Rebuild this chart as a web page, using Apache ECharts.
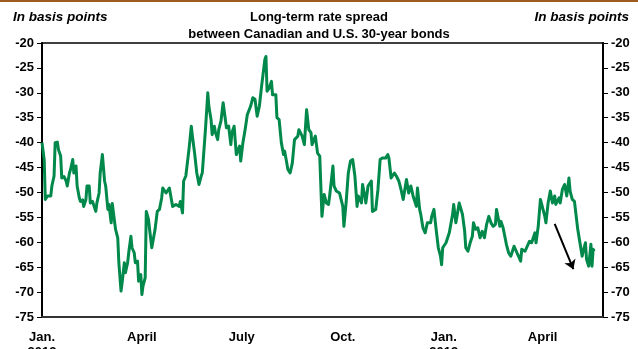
<!DOCTYPE html>
<html>
<head>
<meta charset="utf-8">
<script src="https://cdn.jsdelivr.net/npm/echarts@6/dist/echarts.min.js"></script>
<style>
  html, body { margin: 0; padding: 0; background: #fff; }
  #chart { width: 638px; height: 349px; }
</style>
</head>
<body>
<div id="chart"></div>
<script>
// Canada minus U.S. 30-year yield, in basis points
const dates = [
  '2012-01-01','2012-01-03','2012-01-04','2012-01-06','2012-01-07','2012-01-09','2012-01-10','2012-01-12','2012-01-13','2012-01-15',
  '2012-01-16','2012-01-18','2012-01-19','2012-01-21','2012-01-23','2012-01-24','2012-01-26','2012-01-27','2012-01-29','2012-01-30',
  '2012-02-01','2012-02-02','2012-02-04','2012-02-05','2012-02-07','2012-02-08','2012-02-10','2012-02-11','2012-02-13','2012-02-14',
  '2012-02-16','2012-02-17','2012-02-19','2012-02-20','2012-02-22','2012-02-23','2012-02-25','2012-02-27','2012-02-28','2012-03-01',
  '2012-03-02','2012-03-04','2012-03-05','2012-03-08','2012-03-10','2012-03-11','2012-03-13','2012-03-14','2012-03-16','2012-03-17',
  '2012-03-19','2012-03-20','2012-03-22','2012-03-23','2012-03-25','2012-03-26','2012-03-28','2012-03-29','2012-03-31','2012-04-01',
  '2012-04-02','2012-04-04','2012-04-05','2012-04-07','2012-04-08','2012-04-10','2012-04-11','2012-04-13','2012-04-15','2012-04-17',
  '2012-04-19','2012-04-20','2012-04-23','2012-04-26','2012-04-27','2012-04-29','2012-05-02','2012-05-05','2012-05-06','2012-05-08',
  '2012-05-09','2012-05-11','2012-05-14','2012-05-16','2012-05-17','2012-05-19','2012-05-21','2012-05-23','2012-05-25','2012-05-26',
  '2012-05-29','2012-05-31','2012-06-01','2012-06-03','2012-06-04','2012-06-06','2012-06-07','2012-06-09','2012-06-10','2012-06-12',
  '2012-06-14','2012-06-17','2012-06-19','2012-06-21','2012-06-22','2012-06-24','2012-06-26','2012-06-29','2012-06-30','2012-07-02',
  '2012-07-04','2012-07-06','2012-07-09','2012-07-11','2012-07-13','2012-07-15','2012-07-17','2012-07-19','2012-07-22','2012-07-23',
  '2012-07-24','2012-07-26','2012-07-28','2012-07-29','2012-08-01','2012-08-02','2012-08-04','2012-08-06','2012-08-08','2012-08-09',
  '2012-08-12','2012-08-14','2012-08-16','2012-08-18','2012-08-21','2012-08-22','2012-08-25','2012-08-27','2012-08-29','2012-08-31',
  '2012-09-02','2012-09-03','2012-09-06','2012-09-08','2012-09-10','2012-09-12','2012-09-14','2012-09-16','2012-09-18','2012-09-19',
  '2012-09-22','2012-09-23','2012-09-25','2012-09-28','2012-10-01','2012-10-02','2012-10-04','2012-10-06','2012-10-08','2012-10-10',
  '2012-10-12','2012-10-14','2012-10-15','2012-10-18','2012-10-19','2012-10-21','2012-10-22','2012-10-24','2012-10-27','2012-10-28',
  '2012-10-31','2012-11-02','2012-11-04','2012-11-06','2012-11-09','2012-11-11','2012-11-12','2012-11-14','2012-11-17','2012-11-19',
  '2012-11-21','2012-11-23','2012-11-25','2012-11-28','2012-11-30','2012-12-02','2012-12-04','2012-12-05','2012-12-07','2012-12-08',
  '2012-12-10','2012-12-11','2012-12-13','2012-12-15','2012-12-17','2012-12-20','2012-12-21','2012-12-23','2012-12-25','2012-12-27',
  '2012-12-28','2012-12-29','2012-12-30','2012-12-31','2013-01-03','2013-01-06','2013-01-09','2013-01-10','2013-01-12','2013-01-13',
  '2013-01-15','2013-01-18','2013-01-20','2013-01-21','2013-01-23','2013-01-25','2013-01-27','2013-01-28','2013-01-30','2013-02-01',
  '2013-02-03','2013-02-05','2013-02-07','2013-02-09','2013-02-11','2013-02-13','2013-02-15','2013-02-17','2013-02-18','2013-02-21',
  '2013-02-22','2013-02-24','2013-02-27','2013-03-01','2013-03-03','2013-03-06','2013-03-08','2013-03-10','2013-03-12','2013-03-13',
  '2013-03-16','2013-03-18','2013-03-20','2013-03-22','2013-03-25','2013-03-26','2013-03-28','2013-03-30','2013-04-01','2013-04-03',
  '2013-04-04','2013-04-06','2013-04-08','2013-04-10','2013-04-12','2013-04-13','2013-04-16','2013-04-17','2013-04-19','2013-04-21',
  '2013-04-23','2013-04-25','2013-04-26','2013-04-28','2013-04-30','2013-05-03','2013-05-05','2013-05-07','2013-05-08','2013-05-10',
  '2013-05-11','2013-05-13','2013-05-15','2013-05-16','2013-05-17','2013-05-18'
];
const spread = [
  -40.0,-43.4,-51.4,-50.7,-50.4,-50.7,-48.7,-46.7,-40.0,-39.9,
  -41.4,-42.7,-47.1,-46.8,-47.7,-48.7,-46.1,-45.4,-43.4,-46.1,
  -44.7,-48.7,-51.1,-51.8,-51.5,-52.8,-51.4,-48.7,-48.7,-52.1,
  -51.8,-51.8,-53.8,-52.1,-50.1,-46.1,-42.4,-47.7,-48.7,-53.4,
  -52.4,-56.1,-52.2,-57.4,-59.1,-64.1,-69.8,-68.1,-64.1,-66.1,
  -64.1,-62.1,-58.8,-61.1,-62.1,-64.1,-63.8,-67.8,-66.5,-70.5,
  -68.8,-67.1,-53.8,-55.4,-57.4,-61.1,-60.8,-57.4,-53.8,-53.4,
  -51.1,-49.1,-50.1,-49.1,-49.4,-52.8,-52.4,-52.8,-51.8,-54.1,
  -47.7,-46.7,-41.1,-36.7,-38.7,-42.1,-46.1,-48.4,-46.7,-46.1,
  -37.0,-30.0,-32.7,-35.4,-38.4,-36.7,-38.0,-39.4,-37.4,-35.7,
  -32.0,-37.0,-36.7,-40.4,-38.0,-36.7,-42.4,-40.7,-43.7,-40.0,
  -37.4,-34.4,-32.7,-31.0,-31.3,-34.7,-32.7,-28.7,-23.3,-22.7,
  -29.7,-29.0,-27.7,-30.4,-30.4,-35.0,-35.4,-40.0,-42.4,-41.7,
  -45.4,-46.1,-44.1,-39.4,-38.7,-37.4,-38.7,-40.4,-33.4,-37.4,
  -38.0,-40.4,-38.7,-42.1,-42.7,-54.8,-50.4,-52.1,-52.4,-50.7,
  -44.7,-48.7,-49.7,-50.1,-52.8,-56.8,-52.1,-46.1,-43.7,-43.4,
  -46.7,-52.8,-50.7,-52.1,-48.4,-50.7,-52.1,-48.7,-47.7,-53.8,
  -53.4,-49.4,-43.4,-43.1,-43.1,-42.4,-43.1,-47.1,-46.1,-46.8,
  -47.7,-49.4,-51.4,-47.4,-50.1,-48.7,-50.7,-51.1,-52.8,-49.1,
  -53.4,-54.4,-57.1,-58.1,-56.1,-56.1,-54.8,-53.4,-57.4,-61.1,
  -61.4,-62.8,-64.5,-61.1,-60.1,-58.1,-54.4,-52.4,-56.1,-54.8,
  -52.1,-54.4,-57.8,-61.1,-61.8,-60.1,-58.8,-56.1,-57.4,-57.1,
  -59.1,-57.8,-59.1,-56.4,-54.8,-56.1,-56.8,-56.4,-53.4,-56.8,
  -55.8,-57.1,-60.4,-62.1,-62.8,-60.8,-61.8,-62.8,-63.8,-61.4,
  -61.8,-60.8,-59.8,-60.1,-58.1,-60.1,-56.8,-51.4,-53.1,-54.8,
  -56.1,-52.1,-49.7,-52.1,-50.7,-52.4,-51.1,-52.1,-49.4,-48.4,
  -50.7,-47.1,-49.7,-51.4,-51.8,-57.4,-60.1,-62.8,-61.8,-60.1,
  -63.4,-64.8,-60.4,-64.8,-61.4,-61.8
];

// Quarterly tick dates and their labels
const tickDates = ['2012-01-01','2012-04-01','2012-07-01','2012-10-01','2013-01-01','2013-04-01'];
const tickLabels = ['Jan.\n2012','April','July','Oct.','Jan.\n2013','April'];

// Axis ranges
const xStart = '2012-01-01';
const xEnd = '2013-05-26';
const yMin = -75, yMax = -20, yStep = 5;

// Trend arrow (date, basis points)
const arrowFrom = ['2013-04-12', -56.3];
const arrowTo = ['2013-04-29', -65.4];

const ts = s => { const [y, m, d] = s.split('-').map(Number); return new Date(y, m - 1, d).getTime(); };
const tickTs = tickDates.map(ts);
const labelFor = v => { const i = tickTs.indexOf(v); return i >= 0 ? tickLabels[i] : ''; };

const FONT = '"Liberation Sans", Arial, sans-serif';

const chart = echarts.init(document.getElementById('chart'), null, { renderer: 'canvas' });

const yAxisCommon = {
  type: 'value', min: yMin, max: yMax, interval: yStep,
  axisLine: { show: true, lineStyle: { color: '#000', width: 2 } },
  axisTick: { show: true, length: 5, lineStyle: { color: '#000', width: 1 } },
  axisLabel: { margin: 8, color: '#000', fontFamily: FONT, fontWeight: 'bold', fontSize: 13 },
  splitLine: { show: false }
};

chart.setOption({
  animation: false,
  backgroundColor: '#fff',
  title: {
    text: 'Long-term rate spread\nbetween Canadian and U.S. 30-year bonds',
    left: 'center', top: 4,
    textStyle: { fontFamily: FONT, fontWeight: 'bold', fontSize: 13, lineHeight: 17, color: '#000' }
  },
  graphic: [
    { type: 'rect', left: 0, top: 0, shape: { width: 638, height: 2 }, style: { fill: '#9C5B1F' } },
    { type: 'text', left: 13, top: 10, style: { text: 'In basis points', font: 'italic bold 13.5px ' + FONT, fill: '#000' } },
    { type: 'text', right: 9, top: 10, style: { text: 'In basis points', font: 'italic bold 13.5px ' + FONT, fill: '#000' } }
  ],
  grid: {
    left: 42, right: 35, top: 43, bottom: 32,
    outerBoundsMode: 'none', containLabel: false,
    show: true, borderColor: '#000', borderWidth: 1.5, backgroundColor: 'transparent'
  },
  xAxis: {
    type: 'value', min: ts(xStart), max: ts(xEnd),
    axisLine: { show: true, lineStyle: { color: '#333', width: 2 } },
    axisTick: { show: false },
    splitLine: { show: false },
    axisLabel: {
      customValues: tickTs,
      formatter: v => labelFor(v),
      margin: 13, color: '#000', fontFamily: FONT, fontWeight: 'bold', fontSize: 13, lineHeight: 15,
      hideOverlap: false, showMinLabel: true
    }
  },
  yAxis: [
    Object.assign({}, yAxisCommon, { position: 'left' }),
    Object.assign({}, yAxisCommon, { position: 'right' })
  ],
  series: [{
    type: 'line',
    data: dates.map((d, i) => [ts(d), spread[i]]),
    showSymbol: false,
    lineStyle: { color: '#00894B', width: 3, join: 'round' },
    itemStyle: { color: '#00894B' },
    markLine: {
      silent: true,
      symbol: ['none', 'arrow'],
      symbolSize: 9,
      label: { show: false },
      lineStyle: { color: '#000', width: 2, type: 'solid' },
      data: [[
        { coord: [ts(arrowFrom[0]), arrowFrom[1]] },
        { coord: [ts(arrowTo[0]), arrowTo[1]] }
      ]]
    }
  }]
});
</script>
</body>
</html>
